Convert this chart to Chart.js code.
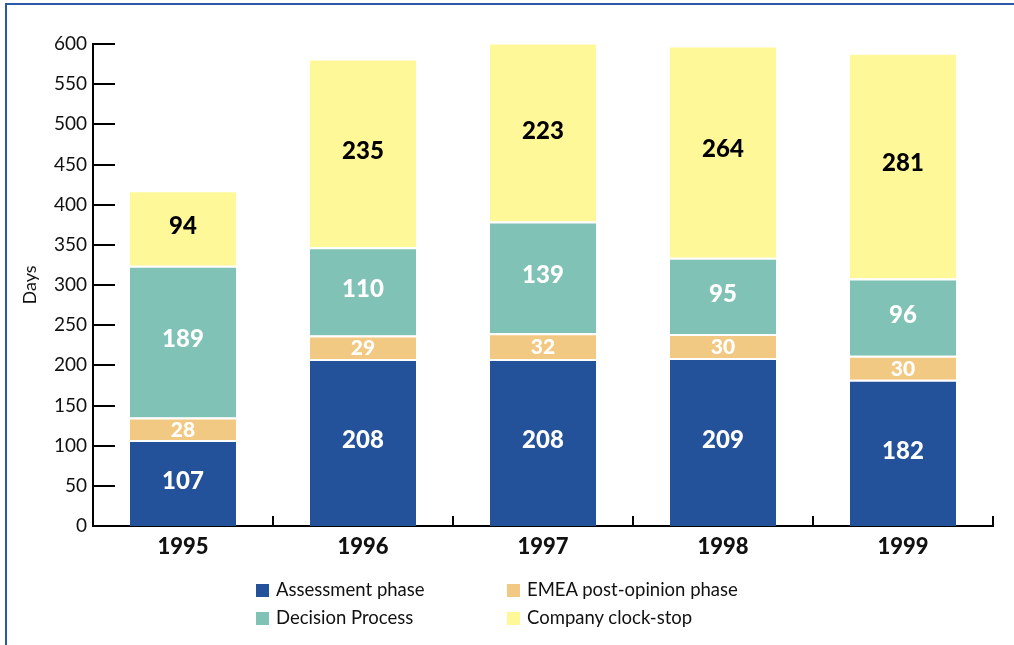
<!DOCTYPE html>
<html>
<head>
<meta charset="utf-8">
<script src="https://cdn.jsdelivr.net/npm/chart.js@4.4.0/dist/chart.umd.min.js"></script>
<style>
  body { margin: 0; background: #fff; font-family: Lato, "Open Sans", sans-serif; }
  #wrap { position: relative; width: 1014px; height: 645px; overflow: hidden; }
  #frame { position: absolute; left: 5px; top: 3px; width: 1100px; height: 700px;
           border-left: 2px solid #2a5aa6; border-top: 2px solid #2a5aa6; }
  #chart { position: absolute; left: 0; top: 0; }
  .legend { position: absolute; font-size: 18.5px; color: #111; white-space: nowrap; }
  .legend span.box { display: inline-block; width: 13px; height: 13px; margin-right: 7px; vertical-align: -1px; }
</style>
</head>
<body>
<div id="wrap">
  <div id="frame"></div>
  <canvas id="chart" width="1014" height="645"></canvas>
  <div id="legend"></div>
</div>
<script>
// Data
const years = ['1995', '1996', '1997', '1998', '1999'];
const assessment = [107, 208, 208, 209, 182];
const emeaPostOpinion = [28, 29, 32, 30, 30];
const decisionProcess = [189, 110, 139, 95, 96];
const clockStop = [94, 235, 223, 264, 281];
const yTicks = [0, 50, 100, 150, 200, 250, 300, 350, 400, 450, 500, 550, 600];

const seriesInfo = [
    { label: 'Assessment phase', data: assessment, color: '#23519a', text: '#fff' },
    { label: 'EMEA post-opinion phase', data: emeaPostOpinion, color: '#f1c982', text: '#fff' },
    { label: 'Decision Process', data: decisionProcess, color: '#80c2b5', text: '#fff' },
    { label: 'Company clock-stop', data: clockStop, color: '#fff899', text: '#000' }
];

// inner tick marks on both axes
const innerTicks = {
    id: 'innerTicks',
    afterDraw(chart) {
        const ctx = chart.ctx;
        const x = chart.scales.x, y = chart.scales.y;
        ctx.save();
        ctx.strokeStyle = '#000';
        ctx.lineWidth = 2;
        ctx.beginPath();
        yTicks.forEach(v => {
            const py = Math.round(y.getPixelForValue(v));
            ctx.moveTo(x.left, py);
            ctx.lineTo(x.left + 22, py);
        });
        for (let i = 0; i < years.length; i++) {
            const px = i < years.length - 1
                ? (x.getPixelForValue(i) + x.getPixelForValue(i + 1)) / 2
                : x.right;
            ctx.moveTo(Math.round(px), y.bottom);
            ctx.lineTo(Math.round(px), y.bottom - 10);
        }
        ctx.stroke();
        ctx.restore();
    }
};

// value labels in the middle of each segment
const segmentLabels = {
    id: 'segmentLabels',
    afterDatasetsDraw(chart) {
        const ctx = chart.ctx;
        ctx.save();
        ctx.textAlign = 'center';
        ctx.textBaseline = 'middle';
        chart.data.datasets.forEach((ds, di) => {
            const meta = chart.getDatasetMeta(di);
            meta.data.forEach((bar, i) => {
                const top = Math.max(bar.y, chart.chartArea.top);
                const small = bar.base - top < 40;
                ctx.font = (small ? '900 21px' : '900 24px') + ' Lato, "Open Sans", sans-serif';
                ctx.fillStyle = seriesInfo[di].text;
                ctx.fillText(String(ds.data[i]), bar.x, (top + bar.base) / 2 + (small ? 1 : -2));
            });
        });
        ctx.restore();
    }
};

new Chart(document.getElementById('chart'), {
    type: 'bar',
    data: {
        labels: years,
        datasets: seriesInfo.map(s => ({
            label: s.label,
            data: s.data,
            backgroundColor: s.color,
            borderColor: '#fff',
            borderWidth: { top: 2, bottom: 0, left: 0, right: 0 },
            borderSkipped: false,
            barPercentage: 0.59,
            categoryPercentage: 1
        }))
    },
    options: {
        responsive: false,
        animation: false,
        layout: { padding: { top: 44, right: 21, left: 0, bottom: 0 } },
        plugins: { legend: { display: false }, tooltip: { enabled: false } },
        scales: {
            x: {
                stacked: true,
                grid: { display: false, drawTicks: false },
                border: { display: true, color: '#000', width: 2 },
                ticks: { color: '#111', padding: 8, font: { family: 'Lato, "Open Sans", sans-serif', size: 22, weight: '900' } },
                afterFit(scale) { scale.height = 119; }
            },
            y: {
                stacked: true,
                min: 0,
                max: 600,
                grid: { display: false, drawTicks: false },
                border: { display: true, color: '#000', width: 2 },
                ticks: { stepSize: 50, color: '#111', padding: 6, font: { family: 'Lato, "Open Sans", sans-serif', size: 19 } },
                title: { display: true, text: 'Days', color: '#111', padding: { top: 19, bottom: 0 }, font: { family: 'Lato, "Open Sans", sans-serif', size: 18 } },
                afterFit(scale) { scale.width = 93; }
            }
        }
    },
    plugins: [innerTicks, segmentLabels]
});

// HTML legend, two columns
const legendPos = [[256, 578], [507, 578], [256, 606], [507, 606]];
const legend = document.getElementById('legend');
seriesInfo.forEach((s, k) => {
    const d = document.createElement('div');
    d.className = 'legend';
    d.style.left = legendPos[k][0] + 'px';
    d.style.top = legendPos[k][1] + 'px';
    d.innerHTML = '<span class="box" style="background:' + s.color + '"></span>' + s.label;
    legend.appendChild(d);
});
</script>
</body>
</html>
